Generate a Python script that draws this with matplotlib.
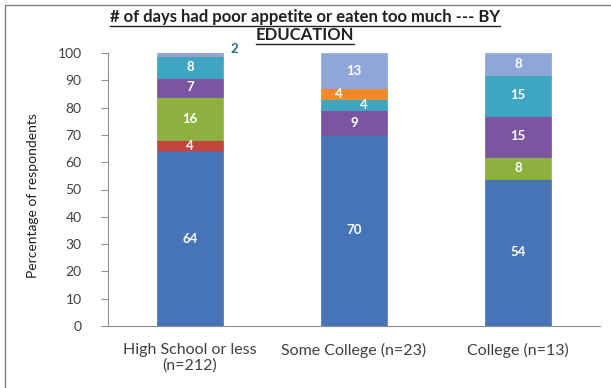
import matplotlib
matplotlib.use("Agg")
import matplotlib.pyplot as plt
from matplotlib.lines import Line2D
from matplotlib.patches import Rectangle
import numpy as np

plt.rcParams['font.family'] = ['Lato', 'DejaVu Sans']

categories = ["High School or less\n(n=212)", "Some College (n=23)", "College (n=13)"]
series_names = ["0 days", "1-2 days", "3-5 days", "6-10 days", "11-20 days", "21-29 days", "30 days"]
s0 = [64, 70, 54]
s1 = [4, 0, 0]
s2 = [16, 0, 8]
s3 = [7, 9, 15]
s4 = [8, 4, 15]
s5 = [0, 4, 0]
s6 = [2, 13, 8]
series = [s0, s1, s2, s3, s4, s5, s6]
colors = ["#4674B6", "#C0463F", "#8DB13F", "#7B55A0", "#3FA6C2", "#F08A2A", "#8FA6D8"]
yticks = list(range(0, 101, 10))

W, H = 611, 388
fig = plt.figure(figsize=(W / 100, H / 100), dpi=100)
fig.patch.set_facecolor("white")

ax = fig.add_axes([108 / W, 1 - 326 / H, (600 - 108) / W, (326 - 53) / H])
x = np.arange(len(categories))
bottom = np.zeros(len(categories))
stacks = []
for vals, col in zip(series, colors):
    vals = np.array(vals, dtype=float)
    ax.bar(x, vals, width=0.4, bottom=bottom, color=col, edgecolor=col, linewidth=0.5)
    stacks.append((vals, bottom.copy()))
    bottom += vals

# segment value labels
for si, (vals, bot) in enumerate(stacks):
    for ci, v in enumerate(vals):
        if v <= 0:
            continue
        cx = x[ci]
        cy = bot[ci] + v / 2
        color = "white"
        if si == 6 and ci == 0:
            # thin top segment: label sits outside the bar
            cx, cy, color = x[ci] + 0.27, 101.5, "#1F6E80"
        elif si == 5 and ci == 1:
            cx = x[ci] - 0.09
        elif si == 4 and ci == 1:
            cx = x[ci] + 0.06
        ax.text(cx, cy, f"{int(v)}", ha="center", va="center", color=color,
                fontsize=9.5, fontweight="bold", clip_on=False)

ax.set_xlim(-0.5, len(categories) - 0.5)
ax.set_ylim(0, 100)
ax.set_yticks(yticks)
ax.set_yticklabels([str(t) for t in yticks], fontsize=10, color="#404040")
ax.set_xticks(x)
ax.set_xticklabels(categories, fontsize=11.5, color="#404040", linespacing=1.15)
ax.tick_params(axis="x", length=0, pad=12)
ax.tick_params(axis="y", length=5, color="#909090", direction="out", pad=14)
for s in ["top", "right"]:
    ax.spines[s].set_visible(False)
for s in ["left", "bottom"]:
    ax.spines[s].set_color("#909090")
    ax.spines[s].set_linewidth(0.8)

fig.text(33 / W, 1 - 196 / H, "Percentage of respondents", rotation=90,
         ha="center", va="center", fontsize=10, color="#202020")

# underlined two-line title
t1 = fig.text(305 / W, 1 - 17 / H, "# of days had poor appetite or eaten too much --- BY",
              ha="center", va="center", fontsize=12, fontweight="bold", color="#202020")
t2 = fig.text(305 / W, 1 - 35 / H, "EDUCATION",
              ha="center", va="center", fontsize=12, fontweight="bold", color="#202020")
fig.canvas.draw()
renderer = fig.canvas.get_renderer()
for t in (t1, t2):
    bb = t.get_window_extent(renderer)
    yline = bb.y0 - 0.5
    fig.add_artist(Line2D([bb.x0 / W, bb.x1 / W], [yline / H, yline / H],
                          transform=fig.transFigure, color="#202020", linewidth=1.0))

# chart frame
fig.add_artist(Rectangle((5 / W, -0.01), 1.0, 1 - 5 / H + 0.01, transform=fig.transFigure,
                         fill=False, edgecolor="#808080", linewidth=1.0))

fig.savefig("out.png", dpi=100, facecolor="white")
